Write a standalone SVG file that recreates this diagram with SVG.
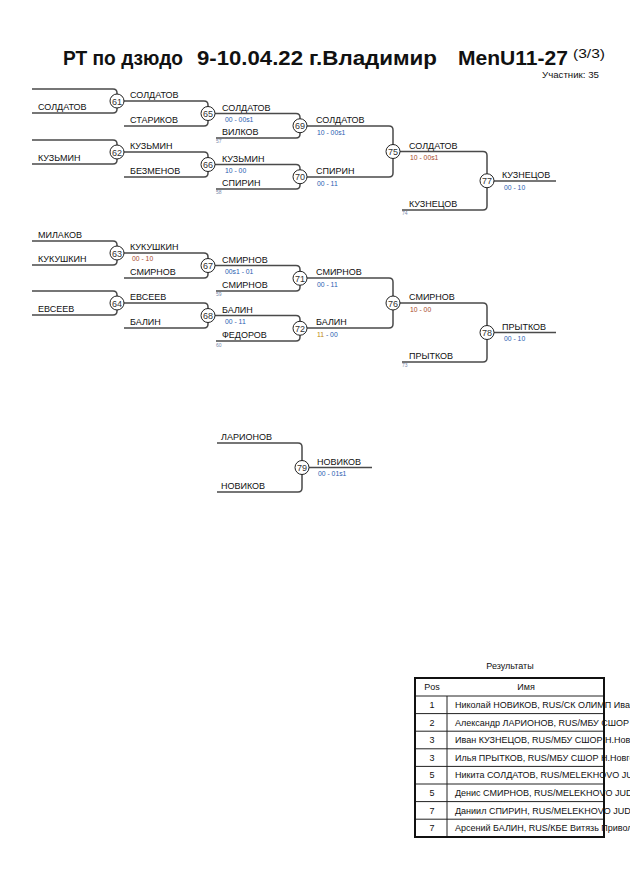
<svg xmlns="http://www.w3.org/2000/svg" width="630" height="891" viewBox="0 0 630 891">
<style>
text{font-family:"Liberation Sans",Arial,sans-serif;fill:#111}
.t{font-weight:bold;font-size:20px}
.n{font-size:9px}
.s{font-size:6.8px;fill:#2a5db0}
.sr{font-size:6.8px;fill:#a84a2a}
.q{font-size:5px;fill:#7788aa}
.c{font-size:9px;text-anchor:middle;fill:#333}
.ln{fill:none;stroke:#4a4a4a;stroke-width:1.5}
.ci{fill:#fff;stroke:#222;stroke-width:1}
.tb{font-size:9px}
</style>
<rect width="630" height="891" fill="#fff"/>
<g id="title">
<text class="t" x="63" y="65" textLength="120" lengthAdjust="spacingAndGlyphs">РТ по дзюдо</text>
<text class="t" x="197" y="65" textLength="106" lengthAdjust="spacingAndGlyphs">9-10.04.22</text>
<text class="t" x="309" y="65" textLength="128" lengthAdjust="spacingAndGlyphs">г.Владимир</text>
<text class="t" x="458" y="65" textLength="110" lengthAdjust="spacingAndGlyphs">MenU11-27</text>
<text x="573" y="58" style="font-size:12.5px" textLength="32" lengthAdjust="spacingAndGlyphs">(3/3)</text>
<text x="542" y="78" style="font-size:8.5px" textLength="57" lengthAdjust="spacingAndGlyphs">Участник: 35</text>
</g>
<g id="connectors">
<path class="ln" d="M32 89 H113 Q117 89 117 93 V109 Q117 113 113 113 H32"/>
<path class="ln" d="M32 140 H113 Q117 140 117 144 V160 Q117 164 113 164 H32"/>
<path class="ln" d="M32 241 H113 Q117 241 117 245 V261 Q117 265 113 265 H32"/>
<path class="ln" d="M32 291 H113 Q117 291 117 295 V311 Q117 315 113 315 H32"/>
<path class="ln" d="M117 101 H204 Q208 101 208 105 V122 Q208 126 204 126 H124"/>
<path class="ln" d="M117 152 H204 Q208 152 208 156 V173 Q208 177 204 177 H124"/>
<path class="ln" d="M117 253 H204 Q208 253 208 257 V274 Q208 278 204 278 H124"/>
<path class="ln" d="M117 303 H204 Q208 303 208 307 V324 Q208 328 204 328 H124"/>
<path class="ln" d="M208 113.5 H296 Q300 113.5 300 117.5 V134 Q300 138 296 138 H216"/>
<path class="ln" d="M208 164.5 H296 Q300 164.5 300 168.5 V185 Q300 189 296 189 H216"/>
<path class="ln" d="M208 265.5 H296 Q300 265.5 300 269.5 V287 Q300 291 296 291 H216"/>
<path class="ln" d="M208 315.5 H296 Q300 315.5 300 319.5 V337 Q300 341 296 341 H216"/>
<path class="ln" d="M300 126 H389 Q393 126 393 130 V173 Q393 177 389 177 H300"/>
<path class="ln" d="M300 278 H389 Q393 278 393 282 V324 Q393 328 389 328 H300"/>
<path class="ln" d="M393 151.5 H483 Q487 151.5 487 155.5 V206 Q487 210 483 210 H402"/>
<path class="ln" d="M393 303 H483 Q487 303 487 307 V358 Q487 362 483 362 H402"/>
<path class="ln" d="M487 181 H556"/>
<path class="ln" d="M487 332.5 H556"/>
<path class="ln" d="M217 443 H298 Q302 443 302 447 V488 Q302 492 298 492 H217"/>
<path class="ln" d="M302 467.5 H372"/>
</g>
<g id="m61"><circle class="ci" cx="117" cy="101" r="7"/><text class="c" x="117" y="104.5">61</text><text class="n" x="38" y="110">СОЛДАТОВ</text></g>
<g id="m62"><circle class="ci" cx="117" cy="152" r="7"/><text class="c" x="117" y="155.5">62</text><text class="n" x="38" y="161">КУЗЬМИН</text></g>
<g id="m63"><circle class="ci" cx="117" cy="253" r="7"/><text class="c" x="117" y="256.5">63</text><text class="n" x="38" y="238">МИЛАКОВ</text><text class="n" x="38" y="262">КУКУШКИН</text></g>
<g id="m64"><circle class="ci" cx="117" cy="303" r="7"/><text class="c" x="117" y="306.5">64</text><text class="n" x="38" y="312">ЕВСЕЕВ</text></g>
<g id="m65"><circle class="ci" cx="208" cy="113.5" r="7"/><text class="c" x="208" y="117">65</text><text class="n" x="130" y="98">СОЛДАТОВ</text><text class="n" x="130" y="123">СТАРИКОВ</text></g>
<g id="m66"><circle class="ci" cx="208" cy="164.5" r="7"/><text class="c" x="208" y="168">66</text><text class="n" x="130" y="149">КУЗЬМИН</text><text class="n" x="130" y="174">БЕЗМЕНОВ</text></g>
<g id="m67"><circle class="ci" cx="208" cy="265.5" r="7"/><text class="c" x="208" y="269">67</text><text class="n" x="130" y="250">КУКУШКИН</text><text class="sr" x="132" y="261">00 - 10</text><text class="n" x="130" y="275">СМИРНОВ</text></g>
<g id="m68"><circle class="ci" cx="208" cy="315.5" r="7"/><text class="c" x="208" y="319">68</text><text class="n" x="130" y="300">ЕВСЕЕВ</text><text class="n" x="130" y="325">БАЛИН</text></g>
<g id="m69"><circle class="ci" cx="300" cy="125.75" r="7"/><text class="c" x="300" y="129.2">69</text><text class="n" x="222" y="110.5">СОЛДАТОВ</text><text class="s" x="225" y="122">00 - 00s1</text><text class="n" x="222" y="135">ВИЛКОВ</text><text class="q" x="216" y="143">57</text></g>
<g id="m70"><circle class="ci" cx="300" cy="176.75" r="7"/><text class="c" x="300" y="180.2">70</text><text class="n" x="222" y="161.5">КУЗЬМИН</text><text class="s" x="225" y="173">10 - 00</text><text class="n" x="222" y="186">СПИРИН</text><text class="q" x="216" y="194">58</text></g>
<g id="m71"><circle class="ci" cx="300" cy="278.25" r="7"/><text class="c" x="300" y="281.7">71</text><text class="n" x="222" y="262.5">СМИРНОВ</text><text class="s" x="225" y="274">00s1 - 01</text><text class="n" x="222" y="288">СМИРНОВ</text><text class="q" x="216" y="296">59</text></g>
<g id="m72"><circle class="ci" cx="300" cy="328.25" r="7"/><text class="c" x="300" y="331.7">72</text><text class="n" x="222" y="312.5">БАЛИН</text><text class="s" x="225" y="324">00 - 11</text><text class="n" x="222" y="338">ФЕДОРОВ</text><text class="q" x="216" y="347">60</text></g>
<g id="m75"><circle class="ci" cx="393" cy="151.5" r="7"/><text class="c" x="393" y="155">75</text><text class="n" x="316" y="123">СОЛДАТОВ</text><text class="s" x="317" y="134.5">10 - 00s1</text><text class="n" x="316" y="174">СПИРИН</text><text class="s" x="317" y="185.5">00 - 11</text></g>
<g id="m76"><circle class="ci" cx="393" cy="303" r="7"/><text class="c" x="393" y="306.5">76</text><text class="n" x="316" y="275">СМИРНОВ</text><text class="s" x="317" y="286.5">00 - 11</text><text class="n" x="316" y="325">БАЛИН</text><text class="s" x="317" y="336.5"><tspan fill="#c08a10">11</tspan> - 00</text></g>
<g id="m77"><circle class="ci" cx="487" cy="180.75" r="7"/><text class="c" x="487" y="184.2">77</text><text class="n" x="409" y="148.5">СОЛДАТОВ</text><text class="sr" x="410" y="160">10 - 00s1</text><text class="n" x="409" y="207">КУЗНЕЦОВ</text><text class="q" x="402" y="215">74</text><text class="n" x="502" y="178">КУЗНЕЦОВ</text><text class="s" x="504" y="189.5">00 - 10</text></g>
<g id="m78"><circle class="ci" cx="487" cy="332.5" r="7"/><text class="c" x="487" y="336">78</text><text class="n" x="409" y="300">СМИРНОВ</text><text class="sr" x="410" y="311.5">10 - 00</text><text class="n" x="409" y="359">ПРЫТКОВ</text><text class="q" x="402" y="367">73</text><text class="n" x="502" y="329.5">ПРЫТКОВ</text><text class="s" x="504" y="341">00 - 10</text></g>
<g id="m79"><circle class="ci" cx="302" cy="467.5" r="7"/><text class="c" x="302" y="471">79</text><text class="n" x="221" y="440">ЛАРИОНОВ</text><text class="n" x="221" y="489">НОВИКОВ</text><text class="n" x="317" y="464.5">НОВИКОВ</text><text class="s" x="318" y="476">00 - 01s1</text></g>
<g id="results">
<text class="tb" x="510" y="669" text-anchor="middle">Результаты</text>
<g stroke="#222" stroke-width="1">
<line x1="415" y1="696" x2="604" y2="696"/>
<line x1="415" y1="713.6" x2="604" y2="713.6"/>
<line x1="415" y1="731.2" x2="604" y2="731.2"/>
<line x1="415" y1="748.8" x2="604" y2="748.8"/>
<line x1="415" y1="766.4" x2="604" y2="766.4"/>
<line x1="415" y1="784" x2="604" y2="784"/>
<line x1="415" y1="801.6" x2="604" y2="801.6"/>
<line x1="415" y1="819.2" x2="604" y2="819.2"/>
<line x1="447" y1="696" x2="447" y2="837"/>
</g>
<rect x="415" y="678" width="189" height="159" fill="none" stroke="#111" stroke-width="2"/>
<text class="tb" x="432" y="690" text-anchor="middle">Pos</text>
<text class="tb" x="526" y="690" text-anchor="middle">Имя</text>
<g class="tb">
<text class="tb" x="432" y="708" text-anchor="middle">1</text><text class="tb" x="455" y="708">Николай НОВИКОВ, RUS/СК ОЛИМП Иван</text>
<text class="tb" x="432" y="725.6" text-anchor="middle">2</text><text class="tb" x="455" y="725.6">Александр ЛАРИОНОВ, RUS/МБУ СШОР</text>
<text class="tb" x="432" y="743.2" text-anchor="middle">3</text><text class="tb" x="455" y="743.2">Иван КУЗНЕЦОВ, RUS/МБУ СШОР Н.Новг</text>
<text class="tb" x="432" y="760.8" text-anchor="middle">3</text><text class="tb" x="455" y="760.8">Илья ПРЫТКОВ, RUS/МБУ СШОР Н.Новго</text>
<text class="tb" x="432" y="778.4" text-anchor="middle">5</text><text class="tb" x="455" y="778.4">Никита СОЛДАТОВ, RUS/MELEKHOVO JU</text>
<text class="tb" x="432" y="796" text-anchor="middle">5</text><text class="tb" x="455" y="796">Денис СМИРНОВ, RUS/MELEKHOVO JUD</text>
<text class="tb" x="432" y="813.6" text-anchor="middle">7</text><text class="tb" x="455" y="813.6">Даниил СПИРИН, RUS/MELEKHOVO JUD</text>
<text class="tb" x="432" y="831.2" text-anchor="middle">7</text><text class="tb" x="455" y="831.2">Арсений БАЛИН, RUS/КБЕ Витязь Привол</text>
</g>
</g>
</svg>
